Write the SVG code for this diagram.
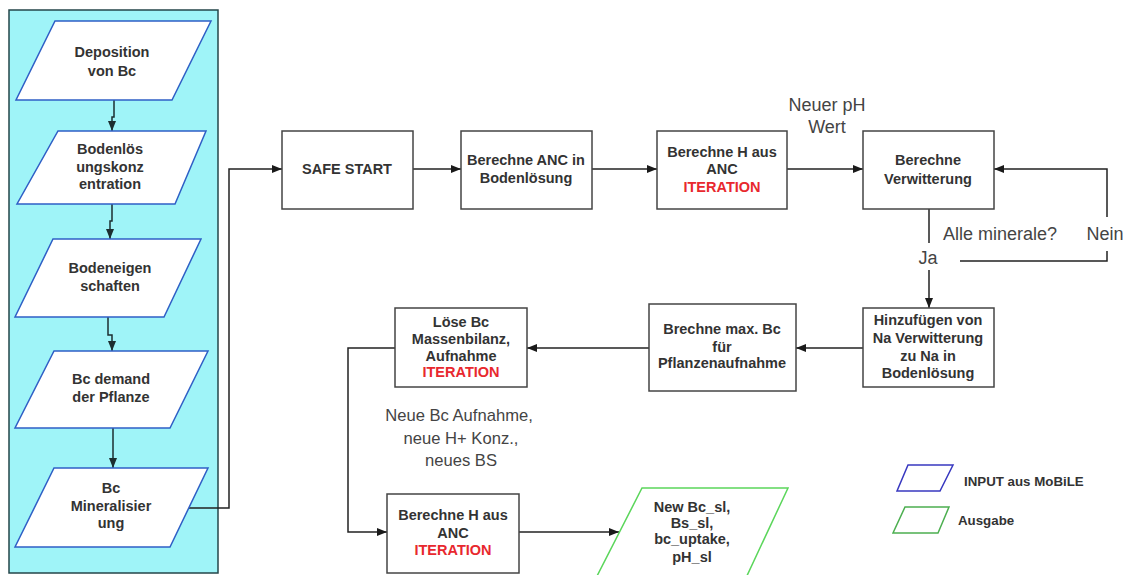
<svg xmlns="http://www.w3.org/2000/svg" width="1128" height="575" viewBox="0 0 1128 575">
<defs>
<marker id="ah" markerWidth="10" markerHeight="8" refX="10" refY="4" orient="auto" markerUnits="userSpaceOnUse">
<path d="M0,0 L10,4 L0,8 Z" fill="#1a1a1a"/>
</marker>
<marker id="ahl" markerWidth="10" markerHeight="8" refX="10" refY="4" orient="auto" markerUnits="userSpaceOnUse">
<path d="M0,0 L10,4 L0,8 Z" fill="#1c2e30"/>
</marker>
</defs>
<style>
.b{font-family:"Liberation Sans",Arial,sans-serif;font-weight:bold;font-size:14.5px;fill:#333;text-anchor:middle}
.r{fill:#e8282e}
.l{font-family:"Liberation Sans",Arial,sans-serif;font-size:18px;fill:#444;text-anchor:middle}
.l2{font-family:"Liberation Sans",Arial,sans-serif;font-size:16.6px;fill:#444;text-anchor:middle}
.box{fill:#fff;stroke:#444;stroke-width:1.5}
.inp{fill:#fff;stroke:#2f5fc6;stroke-width:1.5}
.out{fill:#fff;stroke:#5bd65b;stroke-width:1.5}
.c{fill:none;stroke:#222;stroke-width:1.5}
.cl{fill:none;stroke:#1c2e30;stroke-width:1.5}
.lg{font-family:"Liberation Sans",Arial,sans-serif;font-weight:bold;font-size:13.3px;fill:#333}
</style>
<rect width="1128" height="575" fill="#fff"/>
<rect id="panel" x="9" y="10" width="209" height="563" fill="#9ff4f8" stroke="#24464a" stroke-width="1.5"/>

<g id="connectors">
<path class="cl" d="M114,100 V117 H112 V131" marker-end="url(#ahl)"/>
<path class="cl" d="M112,204 V221 H110 V239" marker-end="url(#ahl)"/>
<path class="cl" d="M108,317 V335 H112 V351" marker-end="url(#ahl)"/>
<path class="cl" d="M113,428 V468" marker-end="url(#ahl)"/>
<path class="c" d="M189,508 H229 V169 H282" marker-end="url(#ah)"/>
<path class="c" d="M413,169 H461" marker-end="url(#ah)"/>
<path class="c" d="M592,169 H657" marker-end="url(#ah)"/>
<path class="c" d="M787,169 H863" marker-end="url(#ah)"/>
<path class="c" d="M929,209 V243"/>
<path class="c" d="M929,270 V308" marker-end="url(#ah)"/>
<path class="c" d="M960,261 H1107 V251"/>
<path class="c" d="M1107,217 V169 H994" marker-end="url(#ah)"/>
<path class="c" d="M863,348 H796" marker-end="url(#ah)"/>
<path class="c" d="M649,348 H527" marker-end="url(#ah)"/>
<path class="c" d="M395,348 H348 V532 H387" marker-end="url(#ah)"/>
<path class="c" d="M519,532 H619" marker-end="url(#ah)"/>
</g>

<g id="n-deposition">
<polygon class="inp" points="55,21 211,21 172,100 16,100"/>
<text class="b" x="112" y="57">Deposition</text>
<text class="b" x="112" y="76">von Bc</text>
</g>
<g id="n-bodenloes">
<polygon class="inp" points="58,131 206,131 175,204 17,204"/>
<text class="b" x="110" y="154">Bodenlös</text>
<text class="b" x="110" y="172">ungskonz</text>
<text class="b" x="110" y="189">entration</text>
</g>
<g id="n-bodeneigen">
<polygon class="inp" points="53,239 201,239 164,317 15,317"/>
<text class="b" x="110" y="273">Bodeneigen</text>
<text class="b" x="110" y="291">schaften</text>
</g>
<g id="n-bcdemand">
<polygon class="inp" points="54,351 208,351 170,428 15,428"/>
<text class="b" x="111" y="384">Bc demand</text>
<text class="b" x="111" y="402">der Pflanze</text>
</g>
<g id="n-mineral">
<polygon class="inp" points="54,468 208,468 170,547 15,547"/>
<text class="b" x="111" y="493">Bc</text>
<text class="b" x="111" y="511">Mineralisier</text>
<text class="b" x="111" y="528">ung</text>
</g>

<g id="n-safe">
<rect class="box" x="282" y="131" width="131" height="78"/>
<text class="b" x="347" y="174">SAFE START</text>
</g>
<g id="n-anc">
<rect class="box" x="461" y="131" width="131" height="78"/>
<text class="b" x="526" y="165">Berechne ANC in</text>
<text class="b" x="526" y="183">Bodenlösung</text>
</g>
<g id="n-h1">
<rect class="box" x="657" y="131" width="130" height="78"/>
<text class="b" x="722" y="157">Berechne H aus</text>
<text class="b" x="722" y="174">ANC</text>
<text class="b r" x="722" y="192">ITERATION</text>
</g>
<g id="n-verw">
<rect class="box" x="863" y="131" width="131" height="78"/>
<text class="b" x="928" y="165">Berechne</text>
<text class="b" x="928" y="184">Verwitterung</text>
</g>
<g id="n-hinzu">
<rect class="box" x="863" y="308" width="131" height="79"/>
<text class="b" x="928" y="325">Hinzufügen von</text>
<text class="b" x="928" y="343">Na Verwitterung</text>
<text class="b" x="928" y="361">zu Na in</text>
<text class="b" x="928" y="378">Bodenlösung</text>
</g>
<g id="n-brechne">
<rect class="box" x="649" y="304" width="147" height="87"/>
<text class="b" x="722" y="334">Brechne max. Bc</text>
<text class="b" x="722" y="352">für</text>
<text class="b" x="722" y="368">Pflanzenaufnahme</text>
</g>
<g id="n-loese">
<rect class="box" x="395" y="308" width="132" height="79"/>
<text class="b" x="461" y="327">Löse Bc</text>
<text class="b" x="461" y="344">Massenbilanz,</text>
<text class="b" x="461" y="361">Aufnahme</text>
<text class="b r" x="461" y="377">ITERATION</text>
</g>
<g id="n-h2">
<rect class="box" x="387" y="494" width="132" height="79"/>
<text class="b" x="453" y="520">Berechne H aus</text>
<text class="b" x="453" y="538">ANC</text>
<text class="b r" x="453" y="555">ITERATION</text>
</g>
<g id="n-out">
<polygon class="out" points="642,488 788,488 745,580 595,580"/>
<text class="b" x="692" y="512">New Bc_sl,</text>
<text class="b" x="692" y="528">Bs_sl,</text>
<text class="b" x="692" y="544">bc_uptake,</text>
<text class="b" x="692" y="562">pH_sl</text>
</g>

<g id="labels">
<text class="l" x="827" y="111">Neuer pH</text>
<text class="l" x="827" y="133">Wert</text>
<text class="l" x="943" y="240" style="text-anchor:start">Alle minerale?</text>
<text class="l" x="1105" y="240">Nein</text>
<text class="l" x="928" y="264">Ja</text>
<text class="l2" x="459" y="421">Neue Bc Aufnahme,</text>
<text class="l2" x="461" y="444">neue H+ Konz.,</text>
<text class="l2" x="461" y="466">neues BS</text>
</g>

<g id="legend">
<polygon fill="#fff" stroke="#3838c0" stroke-width="1.5" points="908,465 953,465 940,491 897,491"/>
<text class="lg" x="964" y="486">INPUT aus MoBiLE</text>
<polygon fill="#fff" stroke="#4caf50" stroke-width="1.5" points="905,507 949,507 938,533 893,533"/>
<text class="lg" x="958" y="525">Ausgabe</text>
</g>
</svg>
